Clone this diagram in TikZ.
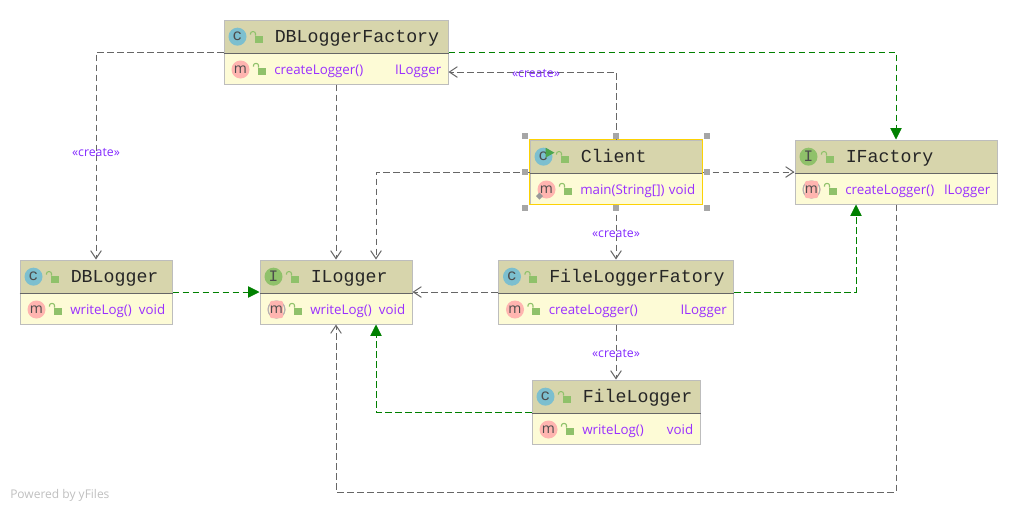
\documentclass[tikz,border=0pt]{standalone}
\usepackage{fontspec}
\setmainfont{Open Sans}
\setmonofont{Liberation Mono}
\usetikzlibrary{arrows.meta,calc}
\definecolor{headcol}{HTML}{D7D5AC}
\definecolor{rowcol}{HTML}{FDFBD6}
\definecolor{edgecol}{HTML}{BDBDBD}
\definecolor{linecol}{HTML}{666666}
\definecolor{realcol}{HTML}{008000}
\definecolor{methodcol}{HTML}{9A30FF}
\definecolor{lockcol}{HTML}{8FC16A}
\definecolor{classcol}{HTML}{7CBFCF}
\definecolor{pinkcol}{HTML}{FFB5B0}
\tikzset{
  x=0.75pt, y=-0.75pt,
  boxbody/.style={draw=edgecol, fill=rowcol, line width=0.75pt, inner sep=0pt, minimum height=48pt},
  boxhead/.style={draw=edgecol, fill=headcol, line width=0.75pt, inner sep=0pt, minimum height=25pt, anchor=north},
  titletext/.style={font=\ttfamily\fontsize{13.7}{14}\selectfont, anchor=base west, inner sep=0pt, text=black!85},
  methodtext/.style={font=\fontsize{10}{12}\selectfont, text=methodcol, anchor=base west, inner sep=0pt},
  rettext/.style={methodtext, anchor=base east},
  classicon/.style={circle, fill=#1, minimum size=13.5pt, inner sep=0pt, text=black!70, font=\ttfamily\fontsize{12}{10}\selectfont},
  methodicon/.style={classicon=#1, font=\fontsize{10.5}{10}\selectfont},
  createlabel/.style={font=\fontsize{9.2}{10}\selectfont, text=methodcol!85!blue, inner sep=0pt},
  dep/.style={draw=linecol, line width=0.75pt, dash pattern=on 5pt off 2.5pt, -{Straight Barb[length=6pt,width=8pt]}},
  real/.style={draw=realcol, line width=0.6pt, dash pattern=on 5pt off 2.5pt, -{Triangle[length=8.5pt,width=8.5pt]}},
  handle/.style={fill=black!35, minimum size=4.5pt, inner sep=0pt},
  lockicon/.pic={
    \fill[lockcol] (0,-2) rectangle (8,5);
    \draw[lockcol, line width=0.8pt, rounded corners=1.5pt] (1,-2) -- (1,-6) -- (-4,-6) -- (-4,-3);
  }
}
% id, centre x, centre y, width, icon colour, icon letter, title, method, return type
\newcommand{\umlbox}[9]{
  \node[boxbody, minimum width=#4*0.75pt] (#1) at (#2,#3) {};
  \node[boxhead, minimum width=#4*0.75pt] (#1-head) at (#1.north) {};
  \draw[black!60, line width=0.8pt] (#1-head.south west) -- (#1-head.south east);
  \node[classicon=#5] (#1-icon) at ($(#1-head.west)+(14,0)$) {#6};
  \pic at ($(#1-head.west)+(31,1)$) {lockicon};
  \node[titletext] (#1-title) at ($(#1-head.west)+(51,6)$) {#7};
  \node[methodicon=pinkcol] (#1-micon) at ($(#1.south west)+(17,-15)$) {m};
  \pic at ($(#1.south west)+(34,-15)$) {lockicon};
  \node[methodtext] (#1-method) at ($(#1.south west)+(50.5,-10.5)$) {#8};
  \node[rettext] (#1-ret) at ($(#1.south east)+(-7,-10.5)$) {#9};
}
% grey ring behind a narrow pink tag, for abstract methods
\newcommand{\absmethod}[1]{
  \node[circle, fill=black!30, minimum size=13.5pt, inner sep=0pt] (#1-ring) at (#1-micon) {};
  \node[circle, fill=rowcol, minimum size=11.5pt, inner sep=0pt] (#1-hole) at (#1-micon) {};
  \node[fill=pinkcol, rounded corners=1.5pt, minimum width=7.5pt, minimum height=13pt, inner sep=0pt, text=black!70, font=\fontsize{10.5}{10}\selectfont] (#1-tag) at (#1-micon) {m};
}
\begin{document}
\begin{tikzpicture}
  \useasboundingbox (0,0) rectangle (1018,512);
  % boxes
  \umlbox{factory}{336}{52}{224}{classcol}{c}{DBLoggerFactory}{createLogger()}{ILogger}
  \umlbox{client}{616}{172}{172}{classcol}{c}{Client}{main(String[])}{void}
  \umlbox{ifactory}{896}{172}{202}{lockcol}{I}{IFactory}{createLogger()}{ILogger}
  \umlbox{dblogger}{96}{292}{152}{classcol}{c}{DBLogger}{writeLog()}{void}
  \umlbox{ilogger}{336}{292}{152}{lockcol}{I}{ILogger}{writeLog()}{void}
  \umlbox{filefactory}{616}{292}{235}{classcol}{c}{FileLoggerFatory}{createLogger()}{ILogger}
  \umlbox{filelogger}{616}{412}{168}{classcol}{c}{FileLogger}{writeLog()}{void}
  \absmethod{ifactory}
  \absmethod{ilogger}
  \draw[draw=yellow!70!orange, line width=0.8pt] (client.north west) rectangle (client.south east);
  \fill[realcol!70] ($(client-icon.center)+(2,-9)$) -- ++(9,5) -- ++(-9,5) -- cycle;
  \fill[black!40] ($(client-micon.center)+(-7,3)$) -- ++(3.5,3.5) -- ++(-3.5,3.5) -- ++(-3.5,-3.5) -- cycle;
  % connectors
  \coordinate (loggertop) at ($(ilogger.north)+(40,0)$);
  \coordinate (loggerbot) at ($(ilogger.south)+(40,0)$);
  \coordinate (ifactbot) at ($(ifactory.south)+(-40,0)$);
  \coordinate (corner) at (896,492);
  \coordinate (bend) at (616,72);
  \draw[dep] (factory.west) -| (dblogger.north);
  \draw[real] (factory.east) -| (ifactory.north);
  \draw[dep] (factory.south) -- (ilogger.north);
  \draw[dep] (client.north) -- (bend) -- (factory.east |- bend);
  \draw[dep] (client.west) -| (loggertop);
  \draw[dep] (client.east) -- (ifactory.west);
  \draw[dep] (client.south) -- (filefactory.north);
  \draw[dep] (filefactory.west) -- (ilogger.east);
  \draw[real] (filefactory.east) -| (ifactbot);
  \draw[dep] (filefactory.south) -- (filelogger.north);
  \draw[real] (filelogger.west) -| (loggerbot);
  \draw[real] (dblogger.east) -- (ilogger.west);
  \draw[dep] (ifactory.south) -- (corner) -| (ilogger.south);
  % labels
  \node[createlabel] (create1) at (96,153) {«create»};
  \node[createlabel] (create2) at (536,74) {«create»};
  \node[createlabel] (create3) at (616,234) {«create»};
  \node[createlabel] (create4) at (616,354) {«create»};
  \node[font=\fontsize{9}{10}\selectfont, text=black!25, anchor=west, inner sep=0pt] (powered) at (10,495) {Powered by yFiles};
  % selection handles
  \node[minimum width=181*0.75pt, minimum height=72*0.75pt, inner sep=0pt] (frame) at (client.center) {};
  \foreach \a in {north west,north,north east,west,east,south west,south,south east}
    \node[handle] at (frame.\a) {};
\end{tikzpicture}
\end{document}
